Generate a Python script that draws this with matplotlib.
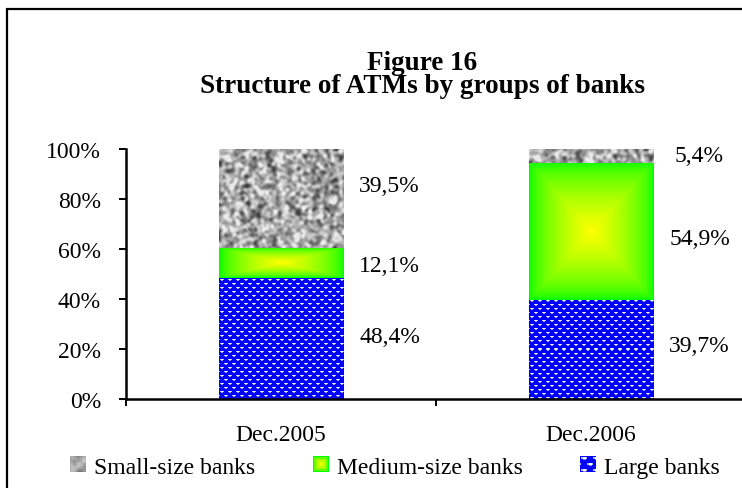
import numpy as np
import matplotlib
matplotlib.use("Agg")
import matplotlib.pyplot as plt
from matplotlib.patches import Rectangle, Patch
from matplotlib.legend_handler import HandlerBase
from matplotlib.image import BboxImage
from matplotlib.transforms import Bbox, TransformedBbox
from matplotlib.ticker import FixedLocator, NullFormatter

plt.rcParams['font.family'] = ['Liberation Serif', 'DejaVu Serif']

# ---------------- data ----------------
categories = ["Dec.2005", "Dec.2006"]
series_names = ["Large banks", "Medium-size banks", "Small-size banks"]
large = [48.4, 39.7]
medium = [12.1, 54.9]
small = [39.5, 5.4]
label_texts = [["48,4%", "12,1%", "39,5%"], ["39,7%", "54,9%", "5,4%"]]
yticks = [0, 20, 40, 60, 80, 100]
ytick_labels = ["0%", "20%", "40%", "60%", "80%", "100%"]
legend_order = ["Small-size banks", "Medium-size banks", "Large banks"]

# manual label nudges (percentage points, per category then series)
label_nudge = [[0.8, -1.0, 5.2], [1.4, -3.0, 0.0]]

W, H, DPI = 742, 489, 100
FS = 17
fig = plt.figure(figsize=(W / DPI, H / DPI), dpi=DPI)

# axes: left spine x=126px, 0% at y=400px, 100% at y=150px; right edge beyond figure
ax_l, ax_r = 126, 746
ax_b, ax_t = 400, 150
ax = fig.add_axes([ax_l / W, 1 - ax_b / H, (ax_r - ax_l) / W, (ax_b - ax_t) / H])
ax.set_xlim(-0.5, 1.5)
ax.set_ylim(0, 100)
bar_w = 0.403

# ---------------- textures ----------------
def tex_large(h, w):
    img = np.zeros((h, w, 3))
    img[:] = (0, 0, 1.0)
    for r in range(h):
        row = r // 4
        off = 0 if row % 2 == 0 else 4
        if r % 4 == 1:
            for c in range(w):
                p = (c - off) % 8
                if p in (1, 2, 3, 4):
                    img[r, c] = (0.72, 0.72, 0.85) if p in (1, 4) else (0.95, 0.95, 0.97)
        elif r % 4 == 2:
            for c in range(w):
                if (c - off) % 8 in (2, 3):
                    img[r, c] = (0.6, 0.6, 0.8)
    return img

def tex_medium(h, w):
    u = np.linspace(-1, 1, w)[None, :]
    v = np.linspace(-1, 1, h)[:, None]
    d = np.maximum(np.abs(u), np.abs(v))
    r = np.clip(1 - d, 0, 1) ** 0.6
    img = np.zeros((h, w, 3))
    img[..., 0] = r
    img[..., 1] = 1.0
    return img

def _blur(n, k, passes):
    ker = np.ones(k) / k
    for _ in range(passes):
        n = np.apply_along_axis(lambda m: np.convolve(m, ker, mode='same'), 0, n)
        n = np.apply_along_axis(lambda m: np.convolve(m, ker, mode='same'), 1, n)
    return n

def tex_small(h, w, seed=3, uniform=False):
    rng = np.random.default_rng(seed)
    n = rng.normal(size=(h + 10, w + 10))
    n = _blur(n, 3, 3)
    n = n[5:5 + h, 5:5 + w]
    n = (n - n.mean()) / (n.std() + 1e-9)
    amp = 18 if uniform else 38
    g = np.clip(168 + amp * n, 65, 235) / 255.0
    return np.dstack([g, g, g])

textures = [tex_large, tex_medium, tex_small]

px_per_x = (ax_r - ax_l) / 2.0
px_per_y = (ax_b - ax_t) / 100.0

x = np.arange(len(categories))
stack = [large, medium, small]
bottoms = np.zeros(len(categories))
for si, vals in enumerate(stack):
    bars = ax.bar(x, vals, width=bar_w, bottom=bottoms, color='none', edgecolor='none')
    for bi, b in enumerate(bars):
        x0, y0 = b.get_x(), b.get_y()
        bw, bh = b.get_width(), b.get_height()
        wpx = max(int(round(bw * px_per_x)), 2)
        hpx = max(int(round(bh * px_per_y)), 2)
        img = textures[si](hpx, wpx)
        ax.imshow(img, extent=(x0, x0 + bw, y0, y0 + bh), aspect='auto',
                  interpolation='nearest' if si == 0 else 'bilinear', zorder=2)
    bottoms = bottoms + np.array(vals)

ax.set_xlim(-0.5, 1.5)
ax.set_ylim(0, 100)

# data labels
lab_off = 0.35
cum = np.zeros(len(categories))
for si, vals in enumerate(stack):
    for ci in range(len(categories)):
        yc = cum[ci] + vals[ci] / 2 + label_nudge[ci][si]
        ax.text(x[ci] + lab_off, yc, label_texts[ci][si], ha='center', va='center',
                fontsize=FS, color='black')
    cum = cum + np.array(vals)

# spines / ticks
for s in ['top', 'right']:
    ax.spines[s].set_visible(False)
for s in ['left', 'bottom']:
    ax.spines[s].set_linewidth(1.8)
ax.set_yticks(yticks)
ax.set_yticklabels(ytick_labels, fontsize=FS)
ax.tick_params(axis='y', length=5, width=1.4, pad=13)
ax.xaxis.set_major_locator(FixedLocator([-0.5, 0.5, 1.5]))
ax.xaxis.set_major_formatter(NullFormatter())
ax.tick_params(axis='x', which='major', length=5, width=1.4)
ax.xaxis.set_minor_locator(FixedLocator(list(x)))
ax.set_xticklabels(categories, minor=True, fontsize=FS)
ax.tick_params(axis='x', which='minor', length=0, pad=18)

# title
fig.text(422 / W, 1 - 70 / H, "Figure 16", ha='center', va='baseline',
         fontsize=19.5, fontweight='bold')
fig.text(422 / W, 1 - 93 / H, "Structure of ATMs by groups of banks", ha='center',
         va='baseline', fontsize=19.5, fontweight='bold')

# border
fig.patches.append(Rectangle((7 / W, -0.1), 1.2, 1 - 10 / H + 0.1, transform=fig.transFigure,
                             fill=False, edgecolor='black', linewidth=1.6, clip_on=False))

# legend with image handles
class ImageHandler(HandlerBase):
    def __init__(self, img):
        super().__init__()
        self.img = img
    def create_artists(self, legend, orig_handle, xdescent, ydescent, width, height,
                       fontsize, trans):
        bb = Bbox.from_bounds(-xdescent, -ydescent, width, height)
        tbb = TransformedBbox(bb, trans)
        im = BboxImage(tbb, interpolation='nearest')
        im.set_data(self.img)
        return [im]

leg_imgs = {
    "Small-size banks": tex_small(11, 11, seed=5, uniform=True),
    "Medium-size banks": tex_medium(11, 11),
    "Large banks": tex_large(11, 11),
}
handles = [Patch(label=n) for n in legend_order]
hmap = {h: ImageHandler(leg_imgs[h.get_label()]) for h in handles}
fig.legend(handles=handles, loc='center', bbox_to_anchor=(395 / W, 1 - 468 / H), ncol=3,
           frameon=False, fontsize=FS, handler_map=hmap, handlelength=0.65,
           handleheight=0.65, handletextpad=0.35, columnspacing=2.45, borderpad=0)

fig.savefig("out.png", dpi=DPI)
